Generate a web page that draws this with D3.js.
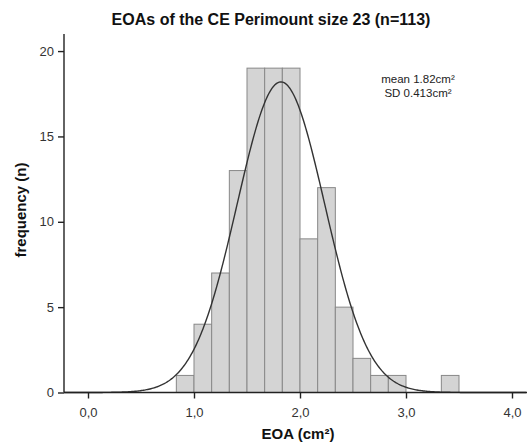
<!DOCTYPE html>
<html>
<head>
<meta charset="utf-8">
<script src="https://cdn.jsdelivr.net/npm/d3@7"></script>
<style>
  body { margin: 0; background: #fff; }
  text { font-family: "Liberation Sans", Arial, sans-serif; }
</style>
</head>
<body>
<svg id="chart" width="527" height="445"></svg>
<script>
// histogram bins (lower edges, width 1/6 cm²) and counts
var binStarts = [5/6, 6/6, 7/6, 8/6, 9/6, 10/6, 11/6, 12/6, 13/6, 14/6, 15/6, 16/6, 17/6, 18/6, 19/6, 20/6];
var binCounts = [1, 4, 7, 13, 19, 19, 19, 9, 12, 5, 2, 1, 1, 0, 0, 1];
var binWidth = 1/6;
var xTicks = [0, 1, 2, 3, 4];
var yTicks = [0, 5, 10, 15, 20];
// fitted normal curve parameters
var meanEOA = 1.82, sdEOA = 0.413, nTotal = 113;

var svg = d3.select("#chart");

var x = d3.scaleLinear().domain([0, 4]).range([88, 512]);
var y = d3.scaleLinear().domain([0, 21]).range([392.5, 34]);
var xMin = x.invert(64), xMax = x.invert(527);

// bars
svg.append("g").selectAll("rect").data(binStarts).enter().append("rect")
  .attr("x", function(d) { return x(d); })
  .attr("width", function(d) { return x(d + binWidth) - x(d); })
  .attr("y", function(d, i) { return y(binCounts[i]); })
  .attr("height", function(d, i) { return y(0) - y(binCounts[i]); })
  .attr("fill", function(d, i) { return binCounts[i] > 0 ? "#d4d4d4" : "none"; })
  .attr("stroke", function(d, i) { return binCounts[i] > 0 ? "#888" : "none"; })
  .attr("stroke-width", 1);

// normal curve
var curvePts = d3.range(xMin, xMax, 0.01).map(function(v) {
  var z = (v - meanEOA) / sdEOA;
  return [v, nTotal * binWidth * Math.exp(-0.5 * z * z) / (sdEOA * Math.sqrt(2 * Math.PI))];
});
svg.append("path").datum(curvePts)
  .attr("fill", "none")
  .attr("stroke", "#333")
  .attr("stroke-width", 1.4)
  .attr("d", d3.line().x(function(d) { return x(d[0]); }).y(function(d) { return y(d[1]); }));

// axes
var fmt = function(d) { return d3.format(".1f")(d).replace(".", ","); };
var xAxisG = svg.append("g").attr("transform", "translate(0," + y(0) + ")")
  .call(d3.axisBottom(x).tickValues(xTicks).tickFormat(fmt).tickSize(6).tickSizeOuter(0));
xAxisG.select(".domain").attr("d", "M64,0H527");
var yAxisG = svg.append("g").attr("transform", "translate(64,0)")
  .call(d3.axisLeft(y).tickValues(yTicks).tickSize(6).tickSizeOuter(0));
yAxisG.select(".domain").attr("d", "M0," + y(0) + "V34");
svg.selectAll(".domain, .tick line").attr("stroke", "#222").attr("stroke-width", 1.4);
xAxisG.selectAll("text").attr("font-size", 13).attr("fill", "#333").attr("y", 24).attr("dy", 0);
yAxisG.selectAll("text").attr("font-size", 13).attr("fill", "#333").attr("x", -10);

// labels
svg.append("text").attr("x", 271).attr("y", 25).attr("text-anchor", "middle")
  .attr("font-size", 16).attr("font-weight", "bold").attr("fill", "#111")
  .text("EOAs of the CE Perimount size 23 (n=113)");
svg.append("text").attr("x", 298).attr("y", 439).attr("text-anchor", "middle")
  .attr("font-size", 15).attr("font-weight", "bold").attr("fill", "#111")
  .text("EOA (cm²)");
svg.append("text").attr("transform", "translate(26,210) rotate(-90)").attr("text-anchor", "middle")
  .attr("font-size", 15).attr("font-weight", "bold").attr("fill", "#111")
  .text("frequency (n)");
svg.append("text").attr("x", 418).attr("y", 83).attr("text-anchor", "middle")
  .attr("font-size", 11.5).attr("fill", "#222")
  .text("mean " + meanEOA + "cm²");
svg.append("text").attr("x", 418).attr("y", 96.5).attr("text-anchor", "middle")
  .attr("font-size", 11.5).attr("fill", "#222")
  .text("SD " + sdEOA + "cm²");
</script>
</body>
</html>
